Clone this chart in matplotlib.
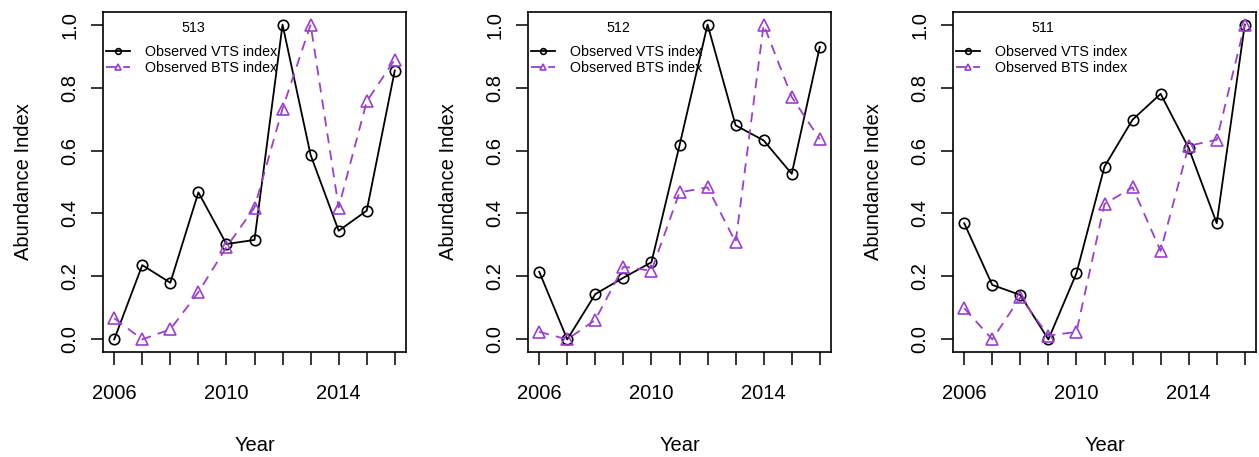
import matplotlib
matplotlib.use("Agg")
import matplotlib.pyplot as plt
from matplotlib.ticker import FixedLocator, FuncFormatter

plt.rcParams['font.family'] = ['Liberation Sans', 'DejaVu Sans']

years = list(range(2006, 2017))
regions = ["513", "512", "511"]

vts_513 = [0.0, 0.236, 0.180, 0.467, 0.303, 0.316, 1.0, 0.586, 0.345, 0.409, 0.854]
bts_513 = [0.067, 0.0, 0.032, 0.150, 0.293, 0.419, 0.733, 1.0, 0.419, 0.756, 0.889]

vts_512 = [0.215, 0.0, 0.144, 0.196, 0.245, 0.616, 1.0, 0.680, 0.632, 0.526, 0.929]
bts_512 = [0.024, 0.0, 0.062, 0.231, 0.218, 0.467, 0.483, 0.309, 1.0, 0.770, 0.636]

vts_511 = [0.369, 0.173, 0.141, 0.0, 0.210, 0.549, 0.698, 0.780, 0.608, 0.369, 1.0]
bts_511 = [0.099, 0.0, 0.134, 0.012, 0.024, 0.430, 0.483, 0.281, 0.615, 0.634, 1.0]

vts_series = [vts_513, vts_512, vts_511]
bts_series = [bts_513, bts_512, bts_511]

x_labels_shown = [2006, 2010, 2014]
y_ticks = [0.0, 0.2, 0.4, 0.6, 0.8, 1.0]

purple = '#9a3fcf'
W, H = 1259, 457
fig = plt.figure(figsize=(W / 100, H / 100), dpi=100)

lefts = [103, 528, 953]
ax_w = 303
ax_top, ax_bot = 12, 352
ax_h = ax_bot - ax_top

for i, left in enumerate(lefts):
    ax = fig.add_axes([left / W, 1 - ax_bot / H, ax_w / W, ax_h / H])
    ax.plot(years, vts_series[i], color='black', lw=1.3, marker='o', ms=7.5,
            mfc='none', mec='black', mew=1.2, label='Observed VTS index')
    ax.plot(years, bts_series[i], color=purple, lw=1.3, ls=(0, (5.5, 4)),
            marker='^', ms=8.5, mfc='none', mec=purple, mew=1.2,
            label='Observed BTS index')
    ax.set_xlim(2005.6, 2016.4)
    ax.set_ylim(-0.04, 1.04)
    ax.xaxis.set_major_locator(FixedLocator(years))
    ax.xaxis.set_major_formatter(FuncFormatter(
        lambda v, p: str(int(round(v))) if int(round(v)) in x_labels_shown else ''))
    ax.set_yticks(y_ticks)
    ax.set_yticklabels([f"{t:.1f}" for t in y_ticks], rotation=90, va='center')
    ax.tick_params(axis='both', direction='out', length=9, width=1.1,
                   labelsize=14.5, colors='black')
    ax.tick_params(axis='x', pad=14)
    ax.tick_params(axis='y', pad=8)
    for sp in ax.spines.values():
        sp.set_linewidth(1.2)
        sp.set_color('black')
    ax.set_xlabel('Year', fontsize=14.5, labelpad=24)
    ax.set_ylabel('Abundance Index', fontsize=14.5, labelpad=20)

    # region label above the legend entries
    ax.text(90 / ax_w, 1 - 16 / ax_h, regions[i], transform=ax.transAxes,
            ha='center', va='center', fontsize=10.3)
    ax.legend(loc='upper left', bbox_to_anchor=(3 / ax_w, 1 - 33 / ax_h),
              frameon=False, fontsize=10.3, handlelength=1.7, handletextpad=1.05,
              borderaxespad=0.0, borderpad=0.0, labelspacing=0.17,
              markerscale=0.55)

fig.savefig('out.png', dpi=100)
